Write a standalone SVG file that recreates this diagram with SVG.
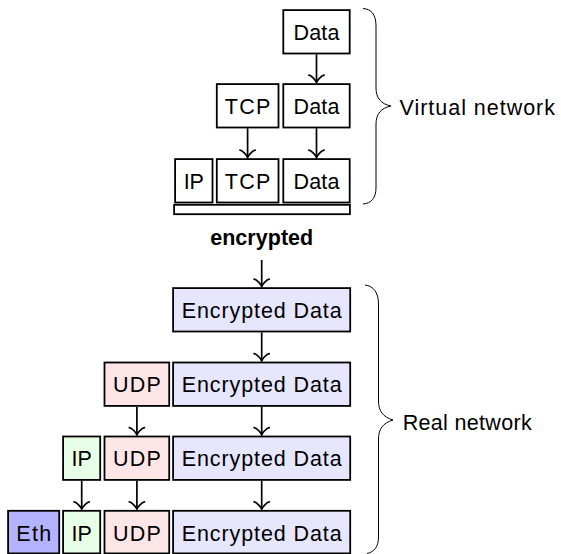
<svg xmlns="http://www.w3.org/2000/svg" width="561" height="554" viewBox="0 0 561 554">
  <style>
    .box { stroke: #000; stroke-width: 1.8; }
    .plain { fill: #fff; }
    .enc { fill: #e6e6ff; }
    .udp { fill: #ffe6e6; }
    .ip { fill: #e6ffe6; }
    .eth { fill: #b3b3ff; }
    .lbl { font-family: "Liberation Sans", Arial, sans-serif; font-size: 21.5px; fill: #000; text-anchor: middle; }
    .side { font-family: "Liberation Sans", Arial, sans-serif; font-size: 21.5px; fill: #000; }
    .bold { font-family: "Liberation Sans", Arial, sans-serif; font-size: 21.5px; font-weight: bold; fill: #000; text-anchor: middle; }
    .conn { stroke: #000; stroke-width: 1.7; fill: none; }
    .brace { stroke: #000; stroke-width: 1; fill: none; }
  </style>
  <defs>
    <marker id="to" viewBox="-9 -9 11 18" refX="0" refY="0" markerWidth="11" markerHeight="18" markerUnits="userSpaceOnUse" orient="auto">
      <path d="M -7.2,-7.6 C -6.8,-4.7 -1.5,-0.47 0,0 C -1.5,0.47 -6.8,4.7 -7.2,7.6" fill="none" stroke="#000" stroke-width="1.7" stroke-linecap="round"/>
    </marker>
  </defs>

  <!-- Virtual network: row 1 -->
  <g id="v1-data">
    <rect class="box plain" x="283.3" y="10.1" width="66.4" height="43.4"/>
    <text class="lbl" x="316.5" y="40" textLength="46" lengthAdjust="spacing">Data</text>
  </g>
  <!-- row 2 -->
  <g id="v2-tcp">
    <rect class="box plain" x="216.8" y="84.1" width="61.7" height="43.4"/>
    <text class="lbl" x="247.6" y="114" textLength="45.5" lengthAdjust="spacing">TCP</text>
  </g>
  <g id="v2-data">
    <rect class="box plain" x="283.3" y="84.1" width="66.4" height="43.4"/>
    <text class="lbl" x="316.5" y="114" textLength="46" lengthAdjust="spacing">Data</text>
  </g>
  <!-- row 3 -->
  <g id="v3-ip">
    <rect class="box plain" x="175.1" y="159.1" width="37.4" height="43.4"/>
    <text class="lbl" x="193.8" y="189">IP</text>
  </g>
  <g id="v3-tcp">
    <rect class="box plain" x="216.8" y="159.1" width="61.7" height="43.4"/>
    <text class="lbl" x="247.6" y="189" textLength="45.5" lengthAdjust="spacing">TCP</text>
  </g>
  <g id="v3-data">
    <rect class="box plain" x="283.3" y="159.1" width="66.4" height="43.4"/>
    <text class="lbl" x="316.5" y="189" textLength="46" lengthAdjust="spacing">Data</text>
  </g>
  <g id="encrypted-bar">
    <rect class="box plain" x="174.1" y="204.8" width="175.8" height="9.4"/>
    <text class="bold" x="261.7" y="245" textLength="103" lengthAdjust="spacing">encrypted</text>
  </g>

  <!-- Real network: row A -->
  <g id="r1-enc">
    <rect class="box enc" x="173.1" y="288.1" width="177.1" height="43.4"/>
    <text class="lbl" x="261.7" y="318" textLength="160" lengthAdjust="spacing">Encrypted Data</text>
  </g>
  <!-- row B -->
  <g id="r2-udp">
    <rect class="box udp" x="104.5" y="362.5" width="64.7" height="43.4"/>
    <text class="lbl" x="136.9" y="392.4" textLength="48" lengthAdjust="spacing">UDP</text>
  </g>
  <g id="r2-enc">
    <rect class="box enc" x="173.1" y="362.5" width="177.1" height="43.4"/>
    <text class="lbl" x="261.7" y="392.4" textLength="160" lengthAdjust="spacing">Encrypted Data</text>
  </g>
  <!-- row C -->
  <g id="r3-ip">
    <rect class="box ip" x="63.1" y="436.5" width="37.1" height="43.4"/>
    <text class="lbl" x="81.7" y="466.4">IP</text>
  </g>
  <g id="r3-udp">
    <rect class="box udp" x="104.5" y="436.5" width="64.7" height="43.4"/>
    <text class="lbl" x="136.9" y="466.4" textLength="48" lengthAdjust="spacing">UDP</text>
  </g>
  <g id="r3-enc">
    <rect class="box enc" x="173.1" y="436.5" width="177.1" height="43.4"/>
    <text class="lbl" x="261.7" y="466.4" textLength="160" lengthAdjust="spacing">Encrypted Data</text>
  </g>
  <!-- row D -->
  <g id="r4-eth">
    <rect class="box eth" x="8.1" y="510.8" width="51.1" height="42.6"/>
    <text class="lbl" x="33.7" y="540.6" textLength="35" lengthAdjust="spacing">Eth</text>
  </g>
  <g id="r4-ip">
    <rect class="box ip" x="63.1" y="510.8" width="37.1" height="42.6"/>
    <text class="lbl" x="81.7" y="540.6">IP</text>
  </g>
  <g id="r4-udp">
    <rect class="box udp" x="104.5" y="510.8" width="64.7" height="42.6"/>
    <text class="lbl" x="136.9" y="540.6" textLength="48" lengthAdjust="spacing">UDP</text>
  </g>
  <g id="r4-enc">
    <rect class="box enc" x="173.1" y="510.8" width="177.1" height="42.6"/>
    <text class="lbl" x="261.7" y="540.6" textLength="160" lengthAdjust="spacing">Encrypted Data</text>
  </g>

  <!-- braces and labels -->
  <g id="virtual-network">
    <path class="brace" d="M 363,8.5 C 371,9 376,14 376,26 L 376,88 C 376,98 381,104 391,106 C 381,108 376,114 376,124 L 376,188 C 376,198 371,203.5 363,204"/>
    <text class="side" x="399.5" y="115" textLength="155.5" lengthAdjust="spacing">Virtual network</text>
  </g>
  <g id="real-network">
    <path class="brace" d="M 365,285 C 373,286 378.5,292 378.5,304 L 378.5,401 C 378.5,411 383,417 393,420 C 383,423 378.5,429 378.5,439 L 378.5,537 C 378.5,547 374,552 367,553.5"/>
    <text class="side" x="402.7" y="430" textLength="129" lengthAdjust="spacing">Real network</text>
  </g>

  <!-- connectors -->
  <g id="connectors">
    <line class="conn" x1="316.5" y1="54.3" x2="316.5" y2="82.4" marker-end="url(#to)"/>
    <line class="conn" x1="247.6" y1="128.3" x2="247.6" y2="157.4" marker-end="url(#to)"/>
    <line class="conn" x1="316.5" y1="128.3" x2="316.5" y2="157.4" marker-end="url(#to)"/>
    <line class="conn" x1="261.7" y1="260" x2="261.7" y2="286.4" marker-end="url(#to)"/>
    <line class="conn" x1="261.7" y1="332.3" x2="261.7" y2="360.8" marker-end="url(#to)"/>
    <line class="conn" x1="136.9" y1="406.7" x2="136.9" y2="434.8" marker-end="url(#to)"/>
    <line class="conn" x1="261.7" y1="406.7" x2="261.7" y2="434.8" marker-end="url(#to)"/>
    <line class="conn" x1="81.7" y1="480.7" x2="81.7" y2="509.1" marker-end="url(#to)"/>
    <line class="conn" x1="136.9" y1="480.7" x2="136.9" y2="509.1" marker-end="url(#to)"/>
    <line class="conn" x1="261.7" y1="480.7" x2="261.7" y2="509.1" marker-end="url(#to)"/>
  </g>
</svg>
